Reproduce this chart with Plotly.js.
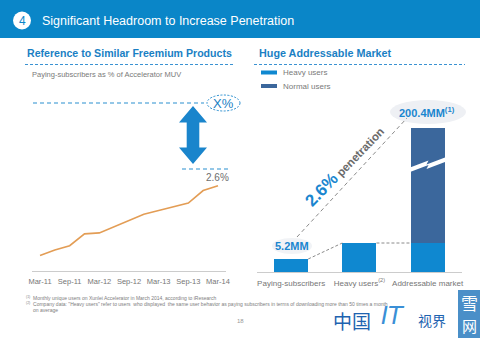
<!DOCTYPE html>
<html>
<head>
<meta charset="utf-8">
<script src="https://cdn.plot.ly/plotly-3.0.1.min.js"></script>
<style>html,body{margin:0;padding:0;background:#fff;}#chart{width:480px;height:340px;}</style>
</head>
<body>
<div id="chart"></div>
<script>
// ---- data ----
const quarters = ["Mar-11","Jun-11","Sep-11","Dec-11","Mar-12","Jun-12","Sep-12","Dec-12","Mar-13","Jun-13","Sep-13","Dec-13","Mar-14"];
const payingPct = [0.47,0.64,0.77,1.13,1.16,1.35,1.56,1.73,1.84,1.95,2.07,2.45,2.60];
const quarterTicks = ["Mar-11","Sep-11","Mar-12","Sep-12","Mar-13","Sep-13","Mar-14"];
const marketCats = ["Paying-subscribers","Heavy users<sup>(2)</sup>","Addressable market"];
const seriesNames = ["Heavy users","Normal users"];
const heavyUsers = [5.2, 11.6, 11.6];
const normalUsers = [null, null, 188.8];
const addressableTotal = 200.4;

// ---- helpers (pixel -> paper) ----
const W = 480, H = 340;
const P = x => x / W;
const Q = y => 1 - y / H;
const FONT = "Liberation Sans, Arial, sans-serif";
const BLUE = "#0b86c9";
const BAR_LIGHT = "#0f88d0";
const BAR_DARK = "#3b679c";

const traces = [
  {type:"scatter", mode:"lines", x:quarters, y:payingPct, xaxis:"x", yaxis:"y",
   line:{color:"#e39d55", width:1.6}, hoverinfo:"skip", showlegend:false},
  {type:"bar", name:seriesNames[0], x:marketCats, y:heavyUsers, xaxis:"x2", yaxis:"y2",
   marker:{color:BAR_LIGHT}, showlegend:false},
  {type:"bar", name:seriesNames[1], x:marketCats, y:normalUsers, xaxis:"x2", yaxis:"y2",
   marker:{color:BAR_DARK}, showlegend:false}
];

const lastPct = payingPct[payingPct.length-1];
const ann = [];
const shapes = [];

// header
shapes.push({type:"rect", xref:"paper", yref:"paper", x0:0, x1:1, y0:Q(38), y1:1, fillcolor:"#0a86c8", line:{width:0}, layer:"below"});
shapes.push({type:"circle", xref:"paper", yref:"paper", x0:P(13), x1:P(31), y0:Q(29.5), y1:Q(11.5), fillcolor:"#ffffff", line:{width:0}});
ann.push({xref:"paper", yref:"paper", x:P(22), y:Q(20.5), text:"4", showarrow:false, font:{family:FONT, size:12, color:BLUE}, xanchor:"center", yanchor:"middle"});
ann.push({xref:"paper", yref:"paper", x:P(40), y:Q(21), text:"Significant Headroom to Increase Penetration", showarrow:false, font:{family:FONT, size:12.5, color:"#ffffff"}, xanchor:"left", yanchor:"middle"});

// section titles
ann.push({xref:"paper", yref:"paper", x:P(25), y:Q(53), text:"<b>Reference to Similar Freemium Products</b>", showarrow:false, font:{family:FONT, size:10.6, color:"#1a7fc4"}, xanchor:"left", yanchor:"middle"});
ann.push({xref:"paper", yref:"paper", x:P(257), y:Q(53), text:"<b>Huge Addressable Market</b>", showarrow:false, font:{family:FONT, size:10.8, color:"#1a7fc4"}, xanchor:"left", yanchor:"middle"});
shapes.push({type:"line", xref:"paper", yref:"paper", x0:P(25), x1:P(235), y0:Q(64.5), y1:Q(64.5), line:{color:"#3a92d2", width:1, dash:"3px,2px"}});
shapes.push({type:"line", xref:"paper", yref:"paper", x0:P(254), x1:P(465), y0:Q(64.5), y1:Q(64.5), line:{color:"#3a92d2", width:1, dash:"3px,2px"}});
ann.push({xref:"paper", yref:"paper", x:P(30), y:Q(74), text:"Paying-subscribers as % of Accelerator MUV", showarrow:false, font:{family:FONT, size:7.5, color:"#7a7a7a"}, xanchor:"left", yanchor:"middle"});

// left: X% target line, arrow, 2.6% line
shapes.push({type:"line", xref:"paper", yref:"paper", x0:P(33), x1:P(204), y0:Q(103), y1:Q(103), line:{color:"#2a8fd0", width:1.2, dash:"4px,3px"}});
shapes.push({type:"circle", xref:"paper", yref:"paper", x0:P(207), x1:P(240), y0:Q(111), y1:Q(95), line:{color:"#2a8fd0", width:1, dash:"2px,1.5px"}});
ann.push({xref:"paper", yref:"paper", x:P(223.5), y:Q(103), text:"X%", showarrow:false, font:{family:FONT, size:13, color:"#1a7fc4"}, xanchor:"center", yanchor:"middle"});
const arrowPts = [[193,106],[207,122.5],[199.3,122.5],[199.3,147.5],[207,147.5],[193,164],[179,147.5],[186.7,147.5],[186.7,122.5],[179,122.5]];
shapes.push({type:"path", xref:"paper", yref:"paper",
  path:"M" + arrowPts.map(p => P(p[0]) + "," + Q(p[1])).join(" L") + " Z",
  fillcolor:"#1a85cc", line:{width:0}});
shapes.push({type:"line", xref:"paper", yref:"paper", x0:P(182), x1:P(229), y0:Q(169), y1:Q(169), line:{color:"#2a8fd0", width:1.2, dash:"4px,3px"}});
ann.push({xref:"paper", yref:"paper", x:P(217), y:Q(177.5), text:lastPct.toFixed(1) + "%", showarrow:false, font:{family:FONT, size:10, color:"#6e6e6e"}, xanchor:"center", yanchor:"middle"});

// right: legend (manual)
shapes.push({type:"rect", xref:"paper", yref:"paper", x0:P(261), x1:P(277), y0:Q(74.5), y1:Q(70.5), fillcolor:BAR_LIGHT, line:{width:0}});
shapes.push({type:"rect", xref:"paper", yref:"paper", x0:P(261), x1:P(277), y0:Q(88), y1:Q(84), fillcolor:BAR_DARK, line:{width:0}});
ann.push({xref:"paper", yref:"paper", x:P(281), y:Q(72.5), text:seriesNames[0], showarrow:false, font:{family:FONT, size:8, color:"#7a7a7a"}, xanchor:"left", yanchor:"middle"});
ann.push({xref:"paper", yref:"paper", x:P(281), y:Q(86), text:seriesNames[1], showarrow:false, font:{family:FONT, size:8, color:"#7a7a7a"}, xanchor:"left", yanchor:"middle"});

// right: connectors between bars (data coords)
shapes.push({type:"line", xref:"x2", yref:"y2", x0:0.25, x1:0.75, y0:heavyUsers[0], y1:heavyUsers[1], line:{color:"#8a8a8a", width:1, dash:"3px,2px"}});
shapes.push({type:"line", xref:"x2", yref:"y2", x0:1.25, x1:1.75, y0:heavyUsers[1], y1:heavyUsers[2], line:{color:"#8a8a8a", width:1, dash:"3px,2px"}});

// diagonal penetration line
shapes.push({type:"line", xref:"paper", yref:"paper", x0:P(297), x1:P(407), y0:Q(237), y1:Q(118), line:{color:"#8a8a8a", width:1, dash:"4px,3px"}});
const penetration = (heavyUsers[0] / addressableTotal * 100).toFixed(1);
ann.push({xref:"paper", yref:"paper", x:P(344), y:Q(166), textangle:-46,
  text:"<b><span style='font-size:17px;color:#1a86cf'>" + penetration + "%</span> <span style='font-size:11.5px;color:#6a6a6a'>penetration</span></b>",
  showarrow:false, font:{family:FONT, size:12, color:"#6a6a6a"}, xanchor:"center", yanchor:"middle"});

// value labels with faint highlight
shapes.push({type:"circle", xref:"paper", yref:"paper", x0:P(272), x1:P(312), y0:Q(254), y1:Q(238), fillcolor:"#f1f3f6", line:{width:0}, layer:"below"});
ann.push({xref:"paper", yref:"paper", x:P(292), y:Q(246), text:"<b>" + heavyUsers[0] + "MM</b>", showarrow:false, font:{family:FONT, size:11, color:"#1a86cf"}, xanchor:"center", yanchor:"middle"});
shapes.push({type:"circle", xref:"paper", yref:"paper", x0:P(390), x1:P(466), y0:Q(124), y1:Q(100), fillcolor:"#eef0f4", line:{width:0}, layer:"below"});
ann.push({xref:"paper", yref:"paper", x:P(427), y:Q(112), text:"<b>" + addressableTotal.toFixed(1) + "MM<sup>(1)</sup></b>", showarrow:false, font:{family:FONT, size:11, color:"#1a86cf"}, xanchor:"center", yanchor:"middle"});

// axis break in the tall bar
const brk = [[410,167.5],[428.5,160.5],[426.5,164.5],[445,157.5],[445,162],[426.5,169],[428.5,165],[410,172]];
shapes.push({type:"path", xref:"paper", yref:"paper",
  path:"M" + brk.map(p => P(p[0]) + "," + Q(p[1])).join(" L") + " Z",
  fillcolor:"#ffffff", line:{width:0}});

// footnotes
const fn = {family:FONT, size:5, color:"#7e7e7e"};
ann.push({xref:"paper", yref:"paper", x:P(24), y:Q(297.5), text:"<sup>(1)</sup>  Monthly unique users on Xunlei Accelerator in March 2014, according to iResearch", showarrow:false, font:fn, xanchor:"left", yanchor:"middle"});
ann.push({xref:"paper", yref:"paper", x:P(24), y:Q(303.5), text:"<sup>(2)</sup>  Company data: \"Heavy users\" refer to users  who displayed  the same user behavior as paying subscribers in terms of downloading more than 50 times a month", showarrow:false, font:fn, xanchor:"left", yanchor:"middle"});
ann.push({xref:"paper", yref:"paper", x:P(31), y:Q(309.5), text:"on average", showarrow:false, font:fn, xanchor:"left", yanchor:"middle"});
ann.push({xref:"paper", yref:"paper", x:P(240), y:Q(321), text:"18", showarrow:false, font:{family:FONT, size:6, color:"#999999"}, xanchor:"center", yanchor:"middle"});

// watermark
ann.push({xref:"paper", yref:"paper", x:P(352), y:Q(320), text:"中国", showarrow:false, font:{family:"Noto Sans CJK SC", size:19, color:"#1e63b0"}, xanchor:"center", yanchor:"middle"});
ann.push({xref:"paper", yref:"paper", x:P(393), y:Q(316), text:"<i>IT</i>", showarrow:false, font:{family:"DejaVu Sans", size:24, color:"#3a8fd6"}, xanchor:"center", yanchor:"middle"});
ann.push({xref:"paper", yref:"paper", x:P(432), y:Q(320), text:"视界", showarrow:false, font:{family:"Noto Sans CJK SC", size:14, color:"#1e63b0"}, xanchor:"center", yanchor:"middle"});
shapes.push({type:"rect", xref:"paper", yref:"paper", x0:P(458), x1:P(480), y0:Q(338), y1:Q(290), fillcolor:"#4a8fc8", line:{width:0}});
ann.push({xref:"paper", yref:"paper", x:P(469), y:Q(302), text:"雪", showarrow:false, font:{family:"Noto Sans CJK SC", size:17, color:"#ffffff"}, xanchor:"center", yanchor:"middle"});
ann.push({xref:"paper", yref:"paper", x:P(469), y:Q(325), text:"网", showarrow:false, font:{family:"Noto Sans CJK SC", size:15, color:"#ffffff"}, xanchor:"center", yanchor:"middle"});

const layout = {
  width:W, height:H, margin:{l:0, r:0, t:0, b:0},
  paper_bgcolor:"#ffffff", plot_bgcolor:"rgba(0,0,0,0)",
  showlegend:false, barmode:"stack", bargap:0.5,
  xaxis:{domain:[P(32), P(226)], type:"category", range:[-0.54, 12.54],
         tickmode:"array", tickvals:quarterTicks, ticktext:quarterTicks,
         showline:true, linecolor:"#cccccc", linewidth:1, showgrid:false, zeroline:false,
         ticks:"outside", ticklen:3, tickcolor:"rgba(0,0,0,0)",
         tickfont:{family:FONT, size:7.5, color:"#767676"}, fixedrange:true},
  yaxis:{domain:[Q(271), Q(140)], range:[0, 3.99], visible:false, fixedrange:true},
  xaxis2:{domain:[P(257), P(461.75)], type:"category", range:[-0.5, 2.5], anchor:"y2",
          showline:true, linecolor:"#cccccc", linewidth:1, showgrid:false, zeroline:false,
          ticks:"outside", ticklen:3, tickcolor:"rgba(0,0,0,0)",
          tickfont:{family:FONT, size:8, color:"#767676"}, fixedrange:true},
  yaxis2:{domain:[Q(272), Q(128)], range:[0, 57.6], visible:false, anchor:"x2", fixedrange:true},
  shapes:shapes, annotations:ann
};

Plotly.newPlot("chart", traces, layout, {staticPlot:true, displayModeBar:false});
</script>
</body>
</html>
